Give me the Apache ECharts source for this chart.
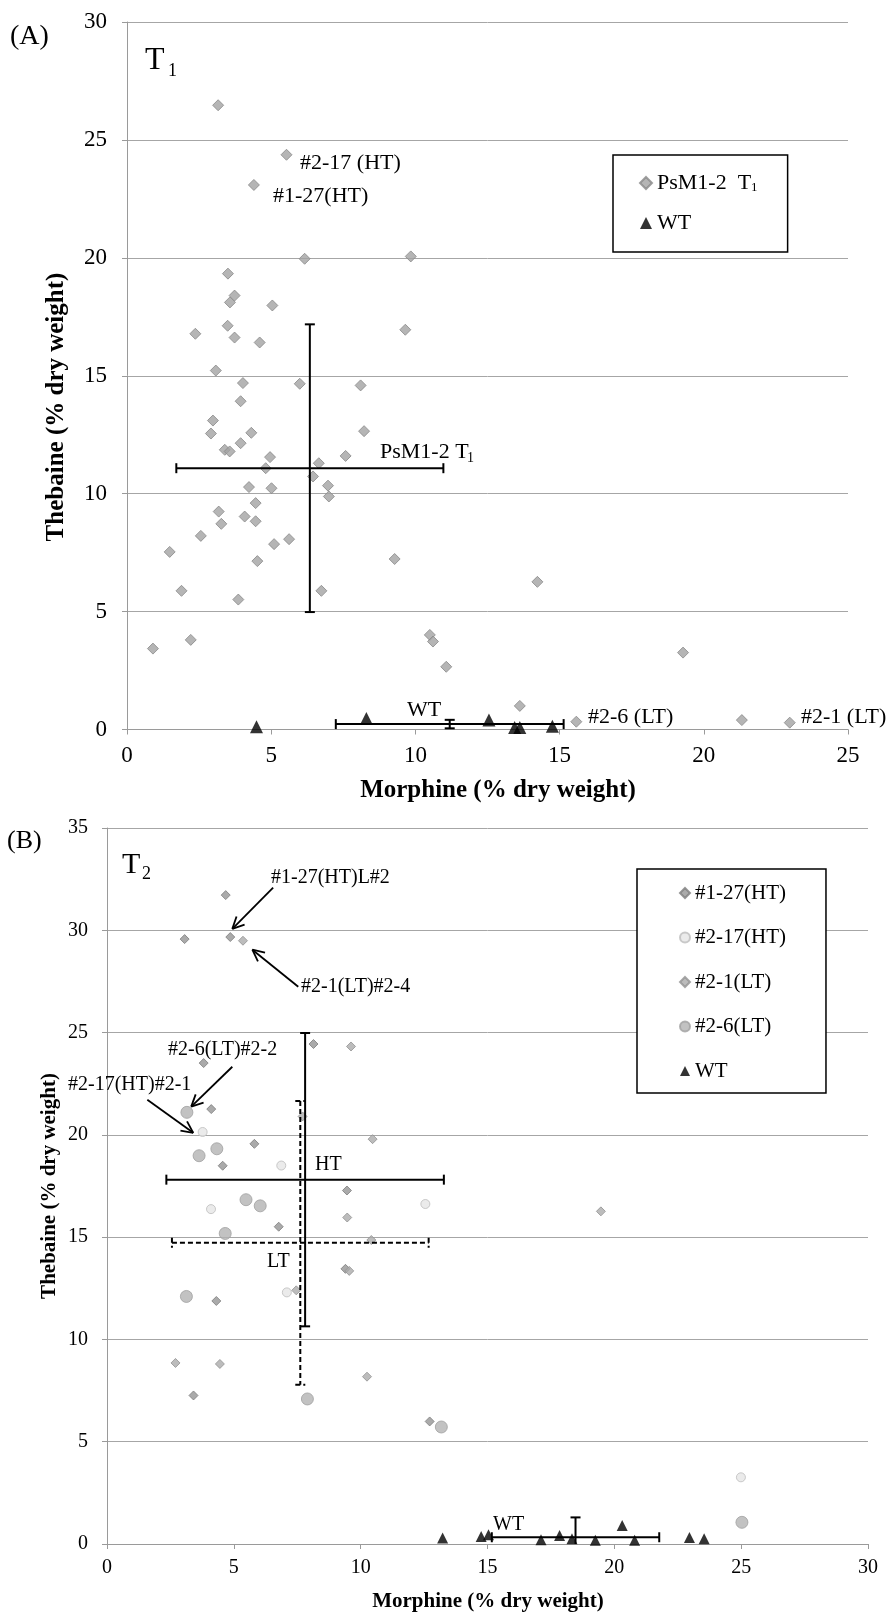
<!DOCTYPE html>
<html>
<head>
<meta charset="utf-8">
<script src="https://cdn.jsdelivr.net/npm/echarts@6/dist/echarts.min.js"></script>
<style>
html,body{margin:0;padding:0;background:#fff;}
#chart{width:896px;height:1614px;}
</style>
</head>
<body>
<div id="chart"></div>
<script>
// ---------------- DATA ----------------
// Panel A (T1)
const psmT1 = [[3.16,26.47],[5.53,24.37],[4.40,23.09],[6.16,19.96],[9.84,20.06],[3.50,19.33],[3.73,18.40],[3.57,18.11],[5.04,17.98],[9.65,16.95],[2.37,16.78],[3.49,17.12],[3.73,16.62],[4.60,16.41],[3.08,15.22],[4.02,14.69],[5.99,14.66],[8.10,14.59],[3.94,13.92],[2.98,13.10],[2.91,12.55],[4.31,12.58],[8.22,12.65],[3.39,11.86],[3.56,11.79],[3.94,12.14],[4.96,11.55],[4.81,11.08],[7.58,11.60],[6.65,11.29],[6.45,10.73],[6.97,10.34],[7.00,9.88],[4.23,10.28],[5.01,10.23],[3.18,9.24],[3.27,8.72],[4.46,9.60],[4.08,9.03],[4.46,8.83],[2.56,8.21],[1.48,7.53],[5.10,7.86],[5.62,8.07],[4.52,7.14],[9.28,7.23],[1.89,5.88],[6.74,5.88],[3.86,5.51],[2.21,3.80],[0.90,3.43],[10.50,4.01],[10.61,3.73],[11.07,2.66],[14.23,6.26],[19.28,3.26],[13.62,1.00],[15.58,0.33],[21.32,0.40],[22.98,0.29]];
const wtT1 = [[4.49,0.12],[8.30,0.47],[12.55,0.40],[13.44,0.08],[13.62,0.08],[14.75,0.14]];
// mean x, mean y, sd x, sd y
const errPsM = [6.34, 11.08, 4.63, 6.10];
const errWtA = [11.19, 0.23, 3.95, 0.18];

// Panel B (T2)
const ht127 = [[4.68,31.72],[3.06,29.57],[4.86,29.67],[8.14,24.44],[3.81,23.51],[4.11,21.26],[5.81,19.56],[4.56,18.49],[9.46,17.28],[6.77,15.51],[9.40,13.45],[4.31,11.88],[3.41,7.26],[12.72,5.99]];
const ht217 = [[3.77,20.14],[6.87,18.50],[4.10,16.37],[7.09,12.30],[12.55,16.62],[24.99,3.26]];
const lt21 = [[5.36,29.49],[9.62,24.32],[7.71,20.90],[10.47,19.79],[9.47,15.96],[10.42,14.86],[9.55,13.35],[7.46,12.40],[2.70,8.85],[4.45,8.80],[10.25,8.18],[19.47,16.26]];
const lt26 = [[3.15,21.10],[4.33,19.32],[3.63,18.98],[5.48,16.83],[6.04,16.53],[4.66,15.18],[3.13,12.10],[7.90,7.09],[13.18,5.72],[25.03,1.06]];
const wtT2 = [[13.23,0.29],[14.75,0.37],[15.04,0.45],[17.11,0.21],[17.84,0.42],[18.33,0.26],[19.25,0.18],[20.31,0.91],[20.80,0.18],[22.96,0.32],[23.54,0.26]];
const errHT = [7.81, 17.81, 5.47, 7.17];
const errLT = [7.62, 14.72, 5.06, 6.94];
const errWtB = [18.47, 0.33, 3.30, 0.97];
// annotation arrows B: from (x,y) to (x,y)
const arrowsB = [[6.55,32.08,4.94,30.07],[7.54,27.24,5.73,29.05],[4.94,23.33,3.32,21.38],[1.59,21.72,3.40,20.10]];

// axis ticks
const axA = {xMin:0, xMax:25, yMin:0, yMax:30, step:5};
const axB = {xMin:0, xMax:30, yMin:0, yMax:35, step:5};

// ---------------- STYLE ----------------
const FONT = 'Liberation Serif';
const GRAY = '#9a9a9a';

function errRender(dashed, yFloor){
  return function(params, api){
    const mx = api.value(0), my = api.value(1), sx = api.value(2), sy = api.value(3);
    const st = {stroke:'#000', lineWidth:2, lineDash: dashed ? [5,3] : null};
    const cap = 5;
    const L = api.coord([mx - sx, my]), R = api.coord([mx + sx, my]);
    const T = api.coord([mx, my + sy]);
    const bv = my - sy;
    const B = api.coord([mx, Math.max(bv, yFloor)]);
    const ch = [
      {type:'line', shape:{x1:L[0],y1:L[1],x2:R[0],y2:R[1]}, style:st},
      {type:'line', shape:{x1:L[0],y1:L[1]-cap,x2:L[0],y2:L[1]+cap}, style:st},
      {type:'line', shape:{x1:R[0],y1:R[1]-cap,x2:R[0],y2:R[1]+cap}, style:st},
      {type:'line', shape:{x1:T[0],y1:T[1],x2:B[0],y2:B[1]}, style:st},
      {type:'line', shape:{x1:T[0]-cap,y1:T[1],x2:T[0]+cap,y2:T[1]}, style:st}
    ];
    if (bv >= yFloor) ch.push({type:'line', shape:{x1:B[0]-cap,y1:B[1],x2:B[0]+cap,y2:B[1]}, style:st});
    return {type:'group', children:ch};
  };
}
function arrowRender(params, api){
  const p1 = api.coord([api.value(0), api.value(1)]);
  const p2 = api.coord([api.value(2), api.value(3)]);
  const a = Math.atan2(p1[1]-p2[1], p1[0]-p2[0]);
  const len = 13, da = 0.45;
  const st = {stroke:'#000', lineWidth:1.8};
  return {type:'group', children:[
    {type:'line', shape:{x1:p1[0],y1:p1[1],x2:p2[0],y2:p2[1]}, style:st},
    {type:'line', shape:{x1:p2[0],y1:p2[1],x2:p2[0]+len*Math.cos(a+da),y2:p2[1]+len*Math.sin(a+da)}, style:st},
    {type:'line', shape:{x1:p2[0],y1:p2[1],x2:p2[0]+len*Math.cos(a-da),y2:p2[1]+len*Math.sin(a-da)}, style:st}
  ]};
}

function xAxisOf(g, ax, fs, margin){
  return {gridIndex:g, type:'value', min:ax.xMin, max:ax.xMax, interval:ax.step,
    axisLine:{show:true, onZero:false, lineStyle:{color:GRAY, width:1}},
    axisTick:{show:true, length:5, lineStyle:{color:GRAY}},
    splitLine:{show:false},
    axisLabel:{margin:margin, fontSize:fs, fontFamily:FONT, color:'#000'}};
}
function yAxisOf(g, ax, fs, margin){
  return {gridIndex:g, type:'value', min:ax.yMin, max:ax.yMax, interval:ax.step,
    axisLine:{show:true, onZero:false, lineStyle:{color:GRAY, width:1}},
    axisTick:{show:true, length:5, lineStyle:{color:GRAY}},
    splitLine:{show:true, lineStyle:{color:'#a6a6a6', width:1}},
    axisLabel:{margin:margin, fontSize:fs, fontFamily:FONT, color:'#000'}};
}

function txt(t, x, y, fs, opt){
  opt = opt || {};
  return {type:'text', x:x, y:y, rotation:opt.rot || 0, silent:true, z:100,
    style:{text:t, fontSize:fs, fontFamily:FONT, fontWeight:opt.bold?'bold':'normal', fill:'#000',
      align:opt.align || 'left', verticalAlign:'middle'}};
}

const chart = echarts.init(document.getElementById('chart'), null, {renderer:'canvas'});
const option = {
  animation:false,
  backgroundColor:'#fff',
  grid:[
    {left:127, top:22, width:721, height:707.5},
    {left:107, top:828, width:761, height:716}
  ],
  xAxis:[xAxisOf(0, axA, 23, 15), xAxisOf(1, axB, 20, 14)],
  yAxis:[yAxisOf(0, axA, 23, 20), yAxisOf(1, axB, 20, 19)],
  legend:[
    {left:613, top:155, orient:'vertical', selectedMode:false,
     data:['PsM1-2  T1','WT'], itemWidth:12, itemHeight:12, itemGap:18,
     padding:[17,30,18,26], borderColor:'#000', borderWidth:1.5, backgroundColor:'#fff',
     formatter:function(n){ return n === 'PsM1-2  T1' ? 'PsM1-2  T{s|1}' : n; },
     textStyle:{fontFamily:FONT, fontSize:22, color:'#000', lineHeight:22,
       rich:{s:{fontFamily:FONT, fontSize:13, color:'#000', lineHeight:22, verticalAlign:'bottom'}}}},
    {left:637, top:869, orient:'vertical', selectedMode:false,
     data:['#1-27(HT)','#2-17(HT)','#2-1(LT)','#2-6(LT)','WT'], itemWidth:10, itemHeight:10, itemGap:22.5,
     padding:[13,40,11,42], borderColor:'#000', borderWidth:1.5, backgroundColor:'#fff',
     textStyle:{fontFamily:FONT, fontSize:21, color:'#000', lineHeight:22}}
  ],
  series:[
    {name:'PsM1-2  T1', type:'scatter', xAxisIndex:0, yAxisIndex:0, data:psmT1, symbol:'diamond', symbolSize:11,
     itemStyle:{color:'#a3a3a3', borderColor:'#888888', borderWidth:1}},
    {name:'WT', type:'scatter', xAxisIndex:0, yAxisIndex:0, data:wtT1, symbol:'triangle', symbolSize:13,
     itemStyle:{color:'#000'}},
    {name:'errA', type:'custom', xAxisIndex:0, yAxisIndex:0, data:[errPsM, errWtA], renderItem:errRender(false, axA.yMin),
     encode:{x:0, y:1}, silent:true, z:5},

    {name:'#1-27(HT)', type:'scatter', xAxisIndex:1, yAxisIndex:1, data:ht127, symbol:'diamond', symbolSize:9,
     itemStyle:{color:'#959595', borderColor:'#7d7d7d', borderWidth:1}},
    {name:'#2-17(HT)', type:'scatter', xAxisIndex:1, yAxisIndex:1, data:ht217, symbol:'circle', symbolSize:9,
     itemStyle:{color:'#e6e6e6', borderColor:'#bdbdbd', borderWidth:1}},
    {name:'#2-1(LT)', type:'scatter', xAxisIndex:1, yAxisIndex:1, data:lt21, symbol:'diamond', symbolSize:9,
     itemStyle:{color:'#ababab', borderColor:'#929292', borderWidth:1}},
    {name:'#2-6(LT)', type:'scatter', xAxisIndex:1, yAxisIndex:1, data:lt26, symbol:'circle', symbolSize:12,
     itemStyle:{color:'#b3b3b3', borderColor:'#a0a0a0', borderWidth:1}},
    {name:'WT', type:'scatter', xAxisIndex:1, yAxisIndex:1, data:wtT2, symbol:'triangle', symbolSize:11,
     itemStyle:{color:'#000'}},
    {name:'errHT', type:'custom', xAxisIndex:1, yAxisIndex:1, data:[errHT, errWtB], renderItem:errRender(false, axB.yMin),
     encode:{x:0, y:1}, silent:true, z:5},
    {name:'errLT', type:'custom', xAxisIndex:1, yAxisIndex:1, data:[errLT], renderItem:errRender(true, axB.yMin),
     encode:{x:0, y:1}, silent:true, z:5},
    {name:'arrows', type:'custom', xAxisIndex:1, yAxisIndex:1, data:arrowsB, renderItem:arrowRender,
     encode:{x:[0,2], y:[1,3]}, silent:true, z:6}
  ],
  graphic:[
    // Panel A
    txt('(A)', 10, 37, 28),
    txt('T', 145, 61, 32),
    txt('1', 168, 71, 18),
    txt('#2-17 (HT)', 300, 163, 22),
    txt('#1-27(HT)', 273, 196, 22),
    txt('PsM1-2 T', 380, 452, 22),
    txt('1', 467, 458, 14),
    txt('WT', 407, 710, 22),
    txt('#2-6 (LT)', 588, 717, 22),
    txt('#2-1 (LT)', 801, 717, 22),
    txt('Morphine (% dry weight)', 498, 791, 25, {bold:true, align:'center'}),
    txt('Thebaine (% dry weight)', 57, 407, 25, {bold:true, align:'center', rot:Math.PI/2}),
    // Panel B
    txt('(B)', 7, 841, 26),
    txt('T', 122, 865, 30),
    txt('2', 142, 874, 18),
    txt('#1-27(HT)L#2', 271, 878, 20),
    txt('#2-1(LT)#2-4', 301, 987, 20),
    txt('#2-6(LT)#2-2', 168, 1050, 20),
    txt('#2-17(HT)#2-1', 68, 1085, 20),
    txt('HT', 315, 1165, 20),
    txt('LT', 267, 1262, 20),
    txt('WT', 493, 1525, 20),
    txt('Morphine (% dry weight)', 488, 1602, 21, {bold:true, align:'center'}),
    txt('Thebaine (% dry weight)', 50, 1186, 21, {bold:true, align:'center', rot:Math.PI/2})
  ]
};
chart.setOption(option);
</script>
</body>
</html>
